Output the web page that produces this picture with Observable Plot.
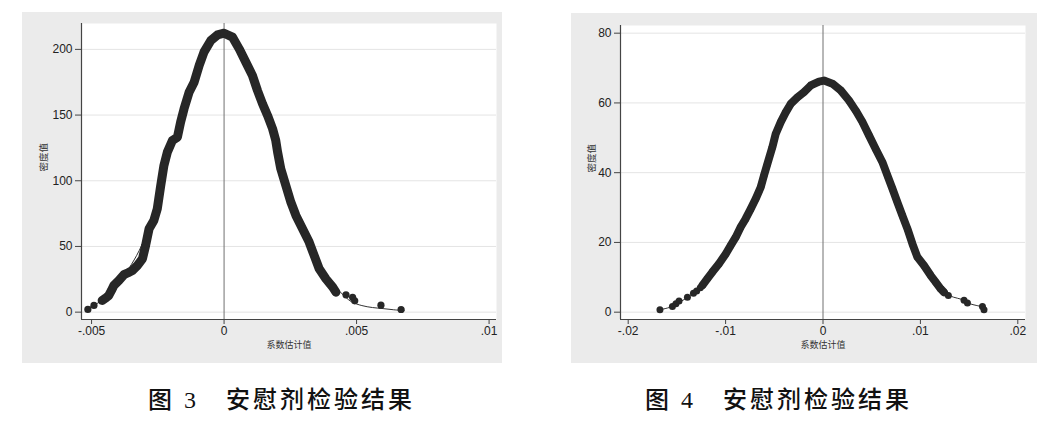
<!DOCTYPE html>
<html>
<head>
<meta charset="utf-8">
<script src="https://cdn.jsdelivr.net/npm/d3@7"></script>
<script src="https://cdn.jsdelivr.net/npm/@observablehq/plot@0.6"></script>
<style>
  html, body { margin: 0; padding: 0; background: #ffffff; }
  #page { position: relative; width: 1061px; height: 428px; overflow: hidden; background: #ffffff; }
  .panel { position: absolute; }
  .caption {
    position: absolute; top: 387px; height: 26px; line-height: 26px;
    font-family: "Liberation Serif", "Noto Sans CJK SC", serif;
    font-size: 24px; letter-spacing: 3px; color: #111; white-space: pre; font-weight: 500;
  }
</style>
</head>
<body>
<div id="page">
  <div class="panel" id="p3" style="left:22px; top:12px;"></div>
  <div class="panel" id="p4" style="left:571px; top:13px;"></div>
  <div class="caption" id="c3" style="left:148px;"></div>
  <div class="caption" id="c4" style="left:645px;"></div>
</div>
<script>
// ---------- Figure 3 data ----------
const fig3BandX = [-0.00460,-0.00448,-0.00435,-0.00425,-0.00416,-0.00397,-0.00378,-0.00362,-0.00346,-0.00327,-0.00308,-0.00296,-0.00283,-0.00265,-0.00252,-0.00239,-0.00227,-0.00214,-0.00195,-0.00176,-0.00164,-0.00151,-0.00132,-0.00113,-0.00094,-0.00076,-0.00050,-0.00025,0.00000,0.00032,0.00057,0.00082,0.00107,0.00126,0.00145,0.00164,0.00183,0.00195,0.00202,0.00214,0.00233,0.00252,0.00271,0.00296,0.00321,0.00340,0.00359,0.00384,0.00410,0.00422];
const fig3BandY = [8.9,10.5,12.7,16.5,20.3,24.1,28.5,30.0,31.7,35.5,40.6,50.8,63.5,69.8,78.7,96.4,111.6,121.8,130.7,133.2,144.6,154.8,167.4,175.0,187.7,197.9,206.8,211.0,212.3,209.3,200.4,190.3,180.1,168.7,158.6,149.7,139.6,130.7,121.8,109.1,96.4,83.7,73.6,63.5,53.3,43.1,33.0,25.4,19.0,15.2];
const fig3TailX = [-0.00514,-0.00491,0.00460,0.00485,0.00493,0.00592,0.00668];
const fig3TailY = [2.1,5.1,13.2,11.3,8.6,5.3,2.0];
const fig3KdeX = [-0.0052,-0.0048,-0.0044,-0.0040,-0.0036,-0.0032,-0.0028,-0.0024,-0.0020,-0.0016,-0.0012,-0.0008,-0.0004,0,0.0004,0.0008,0.0012,0.0016,0.0020,0.0024,0.0028,0.0032,0.0036,0.0040,0.0044,0.0048,0.0052,0.0056,0.0060,0.0064,0.0068];
const fig3KdeY = [2.5,6.5,12,22,33,47,66,91,126,148,170,193,206,212,208,193,172,152,124,94,72,56,37,23,15,8,5,3.5,2.7,1.8,1.2];
const fig3XTicks = [-0.005, 0, 0.005, 0.01];
const fig3XLabels = ["-.005", "0", ".005", ".01"];
const fig3YTicks = [0, 50, 100, 150, 200];

// ---------- Figure 4 data ----------
const fig4BandX = [-0.01238,-0.01187,-0.01136,-0.01068,-0.00999,-0.00948,-0.00896,-0.00845,-0.00794,-0.00742,-0.00691,-0.00640,-0.00606,-0.00571,-0.00520,-0.00486,-0.00434,-0.00383,-0.00332,-0.00263,-0.00195,-0.00126,-0.00041,0.00010,0.00097,0.00182,0.00267,0.00336,0.00405,0.00472,0.00541,0.00610,0.00661,0.00713,0.00764,0.00815,0.00867,0.00918,0.00969,0.01037,0.01106,0.01157,0.01208,0.01242];
const fig4BandY = [7.7,9.6,11.5,13.9,16.7,19.1,21.5,24.4,26.8,29.6,32.5,35.8,39.2,42.5,47.3,51.1,54.5,57.3,59.7,61.6,63.1,65.0,66.1,66.4,65.5,63.6,60.7,57.8,54.5,50.7,46.8,43.0,39.2,35.4,31.5,27.7,23.9,19.6,15.8,13.4,10.5,8.6,6.7,5.7];
const fig4TailX = [-0.01674,-0.01546,-0.01510,-0.01478,-0.01392,-0.01330,-0.01297,-0.01260,0.01287,0.01448,0.01483,0.01637,0.01653];
const fig4TailY = [0.7,1.6,2.4,3.2,4.3,5.4,6.1,7.0,4.8,3.4,2.6,1.6,0.7];
const fig4KdeX = [-0.0167,-0.0154,-0.0146,-0.0138,-0.0130,-0.0122,-0.0114,-0.0106,-0.0098,-0.0090,-0.0082,-0.0074,-0.0066,-0.0058,-0.0050,-0.0042,-0.0034,-0.0026,-0.0018,-0.0010,-0.0002,0.0006,0.0014,0.0022,0.0030,0.0038,0.0046,0.0054,0.0062,0.0070,0.0078,0.0086,0.0094,0.0102,0.0110,0.0118,0.0126,0.0134,0.0142,0.0150,0.0158,0.0165];
const fig4KdeY = [0.7,1.7,3.0,4.5,6.2,8.2,11.5,14.2,17.2,21.3,25.2,29.4,34.4,41.5,49.5,54.9,59.6,61.7,63.4,65.3,66.2,65.9,64.8,62.7,59.2,55.4,51.4,47.0,42.5,36.3,30.8,24.4,17.6,14.0,10.7,7.8,5.4,4.3,3.7,2.5,1.9,1.5];
const fig4XTicks = [-0.02, -0.01, 0, 0.01, 0.02];
const fig4XLabels = ["-.02", "-.01", "0", ".01", ".02"];
const fig4YTicks = [0, 20, 40, 60, 80];

const yTitle = "密度值";
const xTitle = "系数估计值";
const caption3 = "图 3\u3000安慰剂检验结果";
const caption4 = "图 4\u3000安慰剂检验结果";

const toRows = (xs, ys) => xs.map((x, i) => ({x, y: ys[i]}));
const ink = "#272727";

function panel(o) {
  return Plot.plot({
    width: o.width, height: o.height,
    marginLeft: o.ml, marginRight: o.mr, marginTop: o.mt, marginBottom: o.mb,
    x: {domain: o.xDomain},
    y: {domain: o.yDomain},
    style: {background: "#ebebeb", fontFamily: "'Liberation Sans', Arial, sans-serif", fontSize: "12px", color: "#222", overflow: "visible"},
    marks: [
      Plot.frame({fill: "white", stroke: null}),
      Plot.gridY(o.yTicks, {stroke: "#e4e4e4", strokeOpacity: 1}),
      Plot.ruleX([0], {stroke: "#707070", strokeWidth: 1}),
      Plot.line(o.kde, {x: "x", y: "y", stroke: "#333", strokeWidth: 1, curve: "catmull-rom"}),
      Plot.line(o.band, {x: "x", y: "y", stroke: ink, strokeWidth: o.bandWidth, strokeLinejoin: "round", strokeLinecap: "round"}),
      Plot.dot(o.band, {x: "x", y: "y", r: o.r, fill: ink}),
      Plot.dot(o.tails, {x: "x", y: "y", r: o.r, fill: ink}),
      Plot.ruleX([o.xDomain[0]], {stroke: "#444", strokeWidth: 1.2}),
      Plot.ruleY([o.yDomain[0]], {stroke: "#444", strokeWidth: 1.2}),
      Plot.axisY(o.yTicks, {tickSize: 6, tickPadding: 3, tickFormat: d => String(d), label: null, stroke: "#444"}),
      Plot.axisX(o.xTicks, {tickSize: 5, tickPadding: 2, tickFormat: d => o.xLabels[o.xTicks.indexOf(d)], label: null, stroke: "#444"}),
      Plot.text([yTitle], {frameAnchor: "left", dx: -o.yTitleOffset, rotate: -90, fontSize: 9.5, fill: "#333", fontFamily: "'Noto Sans CJK SC', sans-serif"}),
      Plot.text([xTitle], {frameAnchor: "bottom", dy: 28, fontSize: 9, fill: "#333", fontFamily: "'Noto Sans CJK SC', sans-serif"})
    ]
  });
}

document.getElementById("p3").append(panel({
  width: 480, height: 351, ml: 59, mr: 6, mt: 11, mb: 44,
  xDomain: [-0.00538, 0.01028], yDomain: [-5.6, 219.7],
  xTicks: fig3XTicks, xLabels: fig3XLabels, yTicks: fig3YTicks,
  band: toRows(fig3BandX, fig3BandY), tails: toRows(fig3TailX, fig3TailY), kde: toRows(fig3KdeX, fig3KdeY),
  bandWidth: 9, r: 3.6, yTitleOffset: 38
}));
document.getElementById("p4").append(panel({
  width: 466, height: 350, ml: 49, mr: 12, mt: 12, mb: 44,
  xDomain: [-0.02079, 0.02079], yDomain: [-2.1, 82.2],
  xTicks: fig4XTicks, xLabels: fig4XLabels, yTicks: fig4YTicks,
  band: toRows(fig4BandX, fig4BandY), tails: toRows(fig4TailX, fig4TailY), kde: toRows(fig4KdeX, fig4KdeY),
  bandWidth: 8, r: 3.5, yTitleOffset: 29
}));
document.getElementById("c3").textContent = caption3;
document.getElementById("c4").textContent = caption4;
</script>
</body>
</html>
